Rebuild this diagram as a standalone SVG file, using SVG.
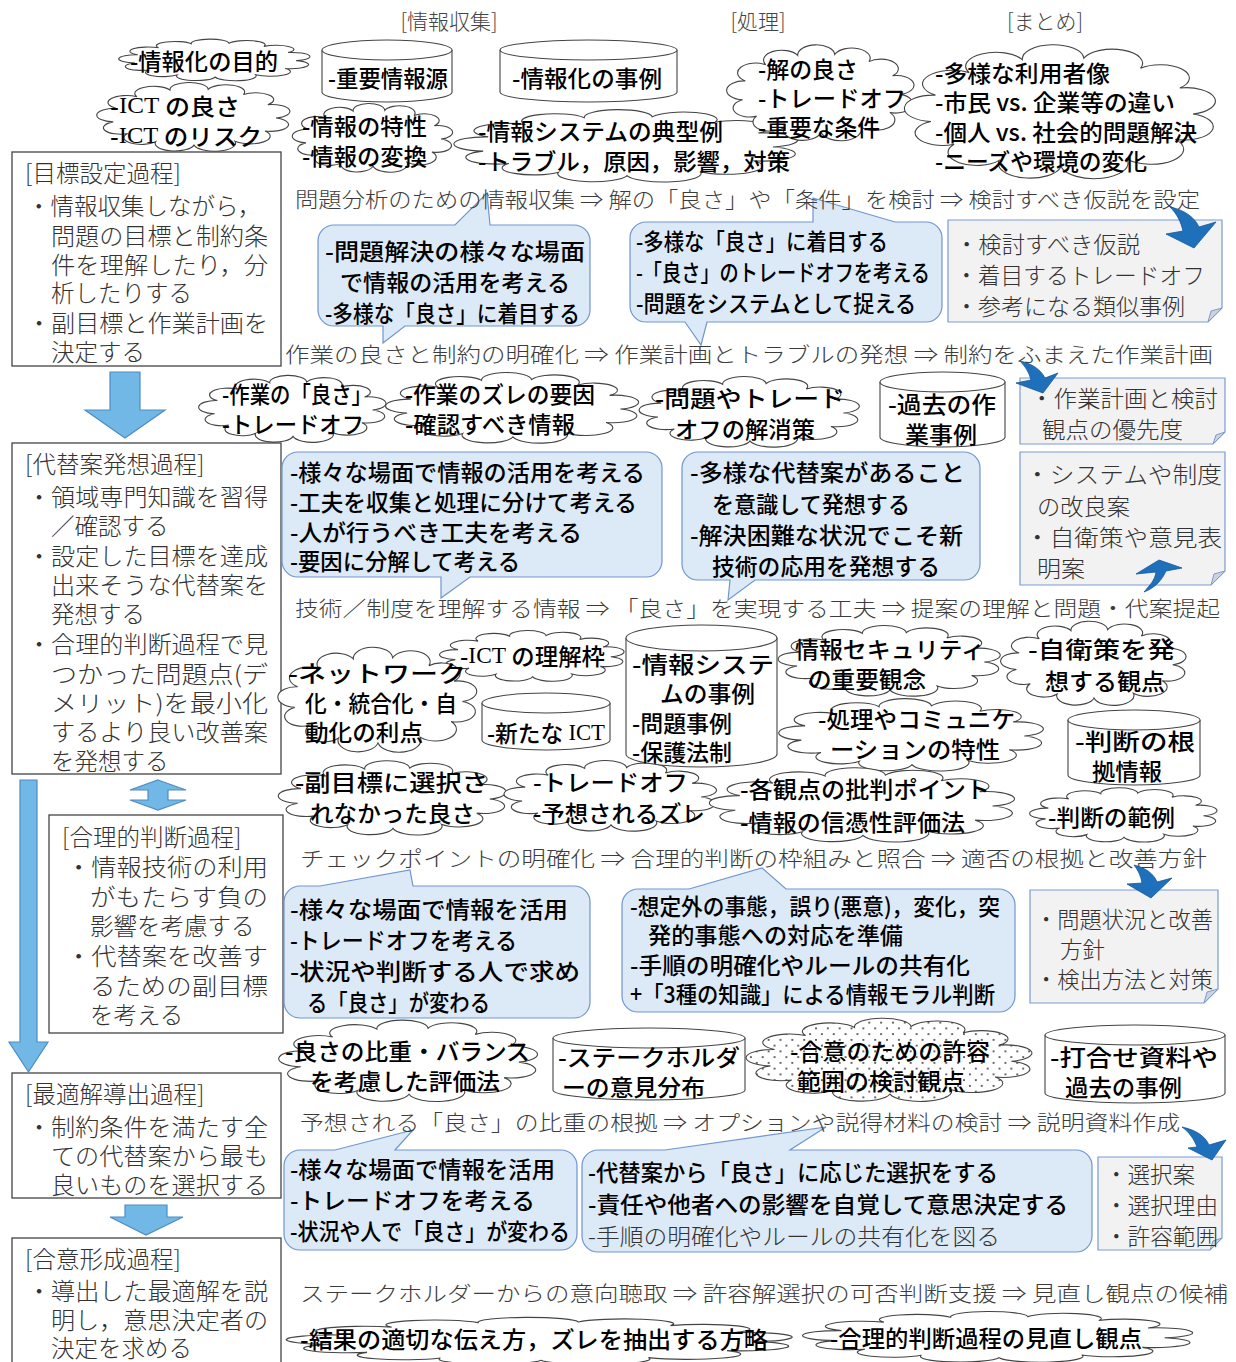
<svg xmlns="http://www.w3.org/2000/svg" xmlns:xlink="http://www.w3.org/1999/xlink" width="1236" height="1362" viewBox="0 0 1236 1362">
<style>
text{dominant-baseline:central;font-family:"Noto Sans CJK JP","Noto Sans CJK SC",sans-serif}
.m{font-size:23px;fill:#333;font-weight:300}
.p{font-size:23.5px;fill:#333;font-weight:300}
.g{font-size:23px;fill:#000;font-weight:500}
.f{font-size:21px;fill:#3c3c3c;font-weight:300}
.h{font-size:21px;fill:#444;font-weight:300}
.lat{font-family:"Liberation Serif",serif;font-weight:400}
.box{fill:#fff;stroke:#444;stroke-width:1.3}
.cl{fill:#fff;stroke:#444;stroke-width:1.1}
.cyl{fill:#fff;stroke:#444;stroke-width:1.1}
.co{fill:#dce9f7;stroke:#7096d0;stroke-width:1.2}
.note{fill:#f2f2f2;stroke:#7b9bd4;stroke-width:1.2}
.fold{fill:#cdd3dc;stroke:#7b9bd4;stroke-width:1}
.big{fill:#72b8e6;stroke:#4d8cc4;stroke-width:1.2}
.cur{fill:#1f70bb;stroke:#17579a;stroke-width:0.8}
</style>
<defs>
<symbol id="cloud" viewBox="0 0 100 100" preserveAspectRatio="none">
<path vector-effect="non-scaling-stroke" d="M9.6,56.4 A1,1 0 0 1 11,38.6 A1,1 0 0 1 21.5,23.4 A1,1 0 0 1 38,14.6 A1,1 0 0 1 57.1,13.6 A1,1 0 0 1 74.7,20.4 A1,1 0 0 1 86.9,33.8 A1,1 0 0 1 91,51.3 A1,1 0 0 1 85.5,68.5 A1,1 0 0 1 70.5,82 A1,1 0 0 1 50,87 A1,1 0 0 1 30.8,82.7 A1,1 0 0 1 16.8,71.8 A1,1 0 0 1 9.6,56.4 Z"/>
</symbol>
<pattern id="dots20" patternUnits="userSpaceOnUse" width="4" height="12.5">
<rect width="4" height="12.5" fill="#fff"/>
<ellipse cx="1" cy="3" rx="0.33" ry="1.04" fill="#333"/>
<ellipse cx="3" cy="9.25" rx="0.33" ry="1.04" fill="#333"/>
</pattern>
</defs>

<g id="headers">
<text class="h" x="449" y="20" text-anchor="middle">[情報収集]</text>
<text class="h" x="758" y="20" text-anchor="middle">[処理]</text>
<text class="h" x="1045" y="20" text-anchor="middle">[まとめ]</text>
</g>

<g id="proc-goal">
<rect class="box" x="12" y="152" width="269" height="214"/>
<text class="p" x="25" y="172">[目標設定過程]</text>
<text class="p" x="27" y="205">・情報収集しながら，</text>
<text class="p" x="51" y="235" textLength="217" lengthAdjust="spacingAndGlyphs">問題の目標と制約条</text>
<text class="p" x="51" y="264" textLength="217" lengthAdjust="spacingAndGlyphs">件を理解したり，分</text>
<text class="p" x="51" y="292">析したりする</text>
<text class="p" x="27" y="322" textLength="241" lengthAdjust="spacingAndGlyphs">・副目標と作業計画を</text>
<text class="p" x="51" y="351">決定する</text>
</g>

<g id="proc-alt">
<rect class="box" x="12" y="443" width="269" height="331"/>
<text class="p" x="25" y="463">[代替案発想過程]</text>
<text class="p" x="27" y="496" textLength="241" lengthAdjust="spacingAndGlyphs">・領域専門知識を習得</text>
<text class="p" x="51" y="525">／確認する</text>
<text class="p" x="27" y="555" textLength="241" lengthAdjust="spacingAndGlyphs">・設定した目標を達成</text>
<text class="p" x="51" y="584" textLength="217" lengthAdjust="spacingAndGlyphs">出来そうな代替案を</text>
<text class="p" x="51" y="613">発想する</text>
<text class="p" x="27" y="643" textLength="241" lengthAdjust="spacingAndGlyphs">・合理的判断過程で見</text>
<text class="p" x="51" y="673" textLength="217" lengthAdjust="spacingAndGlyphs">つかった問題点(デ</text>
<text class="p" x="51" y="702" textLength="217" lengthAdjust="spacingAndGlyphs">メリット)を最小化</text>
<text class="p" x="51" y="731" textLength="217" lengthAdjust="spacingAndGlyphs">するより良い改善案</text>
<text class="p" x="51" y="760">を発想する</text>
</g>

<g id="proc-judge">
<rect class="box" x="49" y="815" width="234" height="218"/>
<text class="p" x="62" y="836">[合理的判断過程]</text>
<text class="p" x="66" y="866" textLength="202" lengthAdjust="spacingAndGlyphs">・情報技術の利用</text>
<text class="p" x="90" y="896" textLength="178" lengthAdjust="spacingAndGlyphs">がもたらす負の</text>
<text class="p" x="90" y="925">影響を考慮する</text>
<text class="p" x="66" y="955" textLength="202" lengthAdjust="spacingAndGlyphs">・代替案を改善す</text>
<text class="p" x="90" y="985" textLength="178" lengthAdjust="spacingAndGlyphs">るための副目標</text>
<text class="p" x="90" y="1014">を考える</text>
</g>

<g id="proc-opt">
<rect class="box" x="12" y="1073" width="269" height="125"/>
<text class="p" x="25" y="1093">[最適解導出過程]</text>
<text class="p" x="27" y="1126" textLength="241" lengthAdjust="spacingAndGlyphs">・制約条件を満たす全</text>
<text class="p" x="51" y="1155" textLength="217" lengthAdjust="spacingAndGlyphs">ての代替案から最も</text>
<text class="p" x="51" y="1184" textLength="217" lengthAdjust="spacingAndGlyphs">良いものを選択する</text>
</g>

<g id="proc-consensus">
<rect class="box" x="12" y="1238" width="269" height="135"/>
<text class="p" x="25" y="1258">[合意形成過程]</text>
<text class="p" x="27" y="1290" textLength="241" lengthAdjust="spacingAndGlyphs">・導出した最適解を説</text>
<text class="p" x="51" y="1319" textLength="217" lengthAdjust="spacingAndGlyphs">明し，意思決定者の</text>
<text class="p" x="51" y="1347">決定を求める</text>
</g>

<g id="c-purpose"><use href="#cloud" class="cl" x="116" y="37" width="198" height="46"/><text class="g" x="130" y="60" textLength="148" lengthAdjust="spacingAndGlyphs">-情報化の目的</text></g>
<g id="c-ict"><use href="#cloud" class="cl" x="94" y="79" width="200" height="76"/>
<text class="g" x="110" y="105" textLength="130" lengthAdjust="spacingAndGlyphs">-<tspan class="lat">ICT</tspan> の良さ</text>
<text class="g" x="110" y="135" textLength="152" lengthAdjust="spacingAndGlyphs">-<tspan class="lat">ICT</tspan> のリスク</text></g>
<g id="c-info"><use href="#cloud" class="cl" x="290" y="100" width="166" height="76"/>
<text class="g" x="302" y="125" textLength="125" lengthAdjust="spacingAndGlyphs">-情報の特性</text>
<text class="g" x="302" y="155" textLength="125" lengthAdjust="spacingAndGlyphs">-情報の変換</text></g>
<g id="c-system"><use href="#cloud" class="cl" x="449" y="106" width="356" height="80"/>
<text class="g" x="478" y="130" textLength="245" lengthAdjust="spacingAndGlyphs">-情報システムの典型例</text>
<text class="g" x="478" y="160" textLength="312" lengthAdjust="spacingAndGlyphs">-トラブル，原因，影響，対策</text></g>
<g id="c-goodness"><use href="#cloud" class="cl" x="724" y="40" width="194" height="106"/>
<text class="g" x="758" y="68" textLength="100" lengthAdjust="spacingAndGlyphs">-解の良さ</text>
<text class="g" x="758" y="97" textLength="148" lengthAdjust="spacingAndGlyphs">-トレードオフ</text>
<text class="g" x="758" y="126" textLength="122" lengthAdjust="spacingAndGlyphs">-重要な条件</text></g>
<g id="c-users"><use href="#cloud" class="cl" x="900" y="38" width="322" height="148"/>
<text class="g" x="935" y="72" textLength="175" lengthAdjust="spacingAndGlyphs">-多様な利用者像</text>
<text class="g" x="935" y="101" textLength="240" lengthAdjust="spacingAndGlyphs">-市民 vs. 企業等の違い</text>
<text class="g" x="935" y="131" textLength="262" lengthAdjust="spacingAndGlyphs">-個人 vs. 社会的問題解決</text>
<text class="g" x="935" y="160" textLength="212" lengthAdjust="spacingAndGlyphs">-ニーズや環境の変化</text></g>

<g id="c-work-good"><use href="#cloud" class="cl" x="196" y="372" width="194" height="74"/>
<text class="g" x="222" y="393" textLength="150" lengthAdjust="spacingAndGlyphs">-作業の「良さ」</text>
<text class="g" x="222" y="423" textLength="142" lengthAdjust="spacingAndGlyphs">-トレードオフ</text></g>
<g id="c-work-gap"><use href="#cloud" class="cl" x="382" y="369" width="262" height="78"/>
<text class="g" x="405" y="393" textLength="190" lengthAdjust="spacingAndGlyphs">-作業のズレの要因</text>
<text class="g" x="405" y="423" textLength="170" lengthAdjust="spacingAndGlyphs">-確認すべき情報</text></g>
<g id="c-resolve"><use href="#cloud" class="cl" x="636" y="373" width="228" height="78"/>
<text class="g" x="655" y="397" textLength="190" lengthAdjust="spacingAndGlyphs">-問題やトレード</text>
<text class="g" x="675" y="428" textLength="140" lengthAdjust="spacingAndGlyphs">オフの解消策</text></g>

<g id="c-ict-frame"><use href="#cloud" class="cl" x="437" y="628" width="191" height="56"/>
<text class="g" x="460" y="655" textLength="145" lengthAdjust="spacingAndGlyphs">-<tspan class="lat">ICT</tspan> の理解枠</text></g>
<g id="c-network"><use href="#cloud" class="cl" x="275" y="642" width="206" height="116"/>
<text class="g" x="288" y="672" textLength="178" lengthAdjust="spacingAndGlyphs">-ネットワーク</text>
<text class="g" x="305" y="702" textLength="152" lengthAdjust="spacingAndGlyphs">化・統合化・自</text>
<text class="g" x="305" y="731" textLength="118" lengthAdjust="spacingAndGlyphs">動化の利点</text></g>
<g id="c-security"><use href="#cloud" class="cl" x="775" y="622" width="230" height="78"/>
<text class="g" x="795" y="648" textLength="190" lengthAdjust="spacingAndGlyphs">情報セキュリティ</text>
<text class="g" x="808" y="678" textLength="118" lengthAdjust="spacingAndGlyphs">の重要観念</text></g>
<g id="c-selfdef"><use href="#cloud" class="cl" x="998" y="617" width="192" height="93"/>
<text class="g" x="1028" y="648" textLength="147" lengthAdjust="spacingAndGlyphs">-自衛策を発</text>
<text class="g" x="1045" y="680" textLength="120" lengthAdjust="spacingAndGlyphs">想する観点</text></g>
<g id="c-comm"><use href="#cloud" class="cl" x="775" y="695" width="274" height="80"/>
<text class="g" x="818" y="718" textLength="197" lengthAdjust="spacingAndGlyphs">-処理やコミュニケ</text>
<text class="g" x="830" y="748" textLength="170" lengthAdjust="spacingAndGlyphs">ーションの特性</text></g>
<g id="c-subgoal"><use href="#cloud" class="cl" x="275" y="757" width="236" height="82"/>
<text class="g" x="295" y="781" textLength="193" lengthAdjust="spacingAndGlyphs">-副目標に選択さ</text>
<text class="g" x="310" y="812" textLength="165" lengthAdjust="spacingAndGlyphs">れなかった良さ</text></g>
<g id="c-tradeoff2"><use href="#cloud" class="cl" x="501" y="757" width="220" height="78"/>
<text class="g" x="533" y="781" textLength="155" lengthAdjust="spacingAndGlyphs">-トレードオフ</text>
<text class="g" x="533" y="812" textLength="172" lengthAdjust="spacingAndGlyphs">-予想されるズレ</text></g>
<g id="c-critique"><use href="#cloud" class="cl" x="705" y="764" width="316" height="82"/>
<text class="g" x="740" y="788" textLength="250" lengthAdjust="spacingAndGlyphs">-各観点の批判ポイント</text>
<text class="g" x="740" y="821" textLength="225" lengthAdjust="spacingAndGlyphs">-情報の信憑性評価法</text></g>
<g id="c-example"><use href="#cloud" class="cl" x="1027" y="785" width="194" height="60"/>
<text class="g" x="1048" y="816" textLength="127" lengthAdjust="spacingAndGlyphs">-判断の範例</text></g>

<g id="c-balance"><use href="#cloud" class="cl" x="275" y="1016" width="268" height="90"/>
<text class="g" x="285" y="1050" textLength="245" lengthAdjust="spacingAndGlyphs">-良さの比重・バランス</text>
<text class="g" x="310" y="1080" textLength="190" lengthAdjust="spacingAndGlyphs">を考慮した評価法</text></g>
<g id="c-consent"><use href="#cloud" x="742" y="1014" width="296" height="92" fill="url(#dots20)" stroke="#444" stroke-width="1.1"/>
<text class="g" x="790" y="1050" textLength="200" lengthAdjust="spacingAndGlyphs">-合意のための許容</text>
<text class="g" x="797" y="1080" textLength="168" lengthAdjust="spacingAndGlyphs">範囲の検討観点</text></g>
<g id="c-convey"><use href="#cloud" class="cl" x="279" y="1315" width="524" height="52"/>
<text class="g" x="300" y="1338" textLength="468" lengthAdjust="spacingAndGlyphs">-結果の適切な伝え方，ズレを抽出する方略</text></g>
<g id="c-review"><use href="#cloud" class="cl" x="797" y="1309" width="404" height="56"/>
<text class="g" x="830" y="1337" textLength="312" lengthAdjust="spacingAndGlyphs">-合理的判断過程の見直し観点</text></g>

<g id="db-source"><path class="cyl" d="M322,50 V92 A65,10 0 0 0 452,92 V50"/><ellipse class="cyl" cx="387" cy="50" rx="65" ry="10"/>
<text class="g" x="328" y="77" textLength="120" lengthAdjust="spacingAndGlyphs">-重要情報源</text></g>
<g id="db-cases"><path class="cyl" d="M500,50 V92 A88.5,10 0 0 0 677,92 V50"/><ellipse class="cyl" cx="588.5" cy="50" rx="88.5" ry="10"/>
<text class="g" x="512" y="77" textLength="150" lengthAdjust="spacingAndGlyphs">-情報化の事例</text></g>
<g id="db-past-work"><path class="cyl" d="M880,382 V437 A62.5,10 0 0 0 1005,437 V382"/><ellipse class="cyl" cx="942.5" cy="382" rx="62.5" ry="10"/>
<text class="g" x="888" y="403" textLength="108" lengthAdjust="spacingAndGlyphs">-過去の作</text>
<text class="g" x="905" y="433" textLength="72" lengthAdjust="spacingAndGlyphs">業事例</text></g>
<g id="db-system"><path class="cyl" d="M626,638 V754 A75.5,13 0 0 0 777,754 V638"/><ellipse class="cyl" cx="701.5" cy="638" rx="75.5" ry="13"/>
<text class="g" x="632" y="663" textLength="142" lengthAdjust="spacingAndGlyphs">-情報システ</text>
<text class="g" x="660" y="692" textLength="95" lengthAdjust="spacingAndGlyphs">ムの事例</text>
<text class="g" x="632" y="722" textLength="100" lengthAdjust="spacingAndGlyphs">-問題事例</text>
<text class="g" x="632" y="751" textLength="100" lengthAdjust="spacingAndGlyphs">-保護法制</text></g>
<g id="db-new-ict"><path class="cyl" d="M482,703 V740 A64,10 0 0 0 610,740 V703"/><ellipse class="cyl" cx="546" cy="703" rx="64" ry="10"/>
<text class="g" x="487" y="732" textLength="118" lengthAdjust="spacingAndGlyphs">-新たな <tspan class="lat">ICT</tspan></text></g>
<g id="db-grounds"><path class="cyl" d="M1068,720 V775 A66,10 0 0 0 1200,775 V720"/><ellipse class="cyl" cx="1134" cy="720" rx="66" ry="10"/>
<text class="g" x="1075" y="740" textLength="120" lengthAdjust="spacingAndGlyphs">-判断の根</text>
<text class="g" x="1092" y="770" textLength="70" lengthAdjust="spacingAndGlyphs">拠情報</text></g>
<g id="db-stakeholder"><path class="cyl" d="M553,1038 V1090 A96,10 0 0 0 745,1090 V1038"/><ellipse class="cyl" cx="649" cy="1038" rx="96" ry="10"/>
<text class="g" x="558" y="1056" textLength="182" lengthAdjust="spacingAndGlyphs">-ステークホルダ</text>
<text class="g" x="562" y="1086" textLength="143" lengthAdjust="spacingAndGlyphs">ーの意見分布</text></g>
<g id="db-meeting"><path class="cyl" d="M1045,1035 V1093 A90,10 0 0 0 1225,1093 V1035"/><ellipse class="cyl" cx="1135" cy="1035" rx="90" ry="10"/>
<text class="g" x="1050" y="1056" textLength="168" lengthAdjust="spacingAndGlyphs">-打合せ資料や</text>
<text class="g" x="1065" y="1086" textLength="117" lengthAdjust="spacingAndGlyphs">過去の事例</text></g>

<g id="k1"><path class="co" d="M334,225 H455 L487,193 L490,225 H574 A16,16 0 0 1 590,241 V310 A16,16 0 0 1 574,326 H405 L383,343 L383,326 H334 A16,16 0 0 1 318,310 V241 A16,16 0 0 1 334,225 Z"/>
<text class="g" x="325" y="250" textLength="260" lengthAdjust="spacingAndGlyphs">-問題解決の様々な場面</text>
<text class="g" x="340" y="281" textLength="230" lengthAdjust="spacingAndGlyphs">で情報の活用を考える</text>
<text class="g" x="325" y="312" textLength="255" lengthAdjust="spacingAndGlyphs">-多様な「良さ」に着目する</text></g>
<g id="k2"><path class="co" d="M646,222 H813 L813,198 L895,222 H926 A16,16 0 0 1 942,238 V306 A16,16 0 0 1 926,322 H707 L701,345 L685,322 H646 A16,16 0 0 1 630,306 V238 A16,16 0 0 1 646,222 Z"/>
<text class="g" x="636" y="240" textLength="252" lengthAdjust="spacingAndGlyphs">-多様な「良さ」に着目する</text>
<text class="g" x="636" y="271" textLength="294" lengthAdjust="spacingAndGlyphs">-「良さ」のトレードオフを考える</text>
<text class="g" x="636" y="302" textLength="280" lengthAdjust="spacingAndGlyphs">-問題をシステムとして捉える</text></g>
<g id="k3"><path class="co" d="M298,452 H646 A16,16 0 0 1 662,468 V561 A16,16 0 0 1 646,577 H470 L441,598 L441,577 H298 A16,16 0 0 1 282,561 V468 A16,16 0 0 1 298,452 Z"/>
<text class="g" x="290" y="471" textLength="355" lengthAdjust="spacingAndGlyphs">-様々な場面で情報の活用を考える</text>
<text class="g" x="290" y="501" textLength="347" lengthAdjust="spacingAndGlyphs">-工夫を収集と処理に分けて考える</text>
<text class="g" x="290" y="531" textLength="292" lengthAdjust="spacingAndGlyphs">-人が行うべき工夫を考える</text>
<text class="g" x="290" y="560" textLength="230" lengthAdjust="spacingAndGlyphs">-要因に分解して考える</text></g>
<g id="k4"><path class="co" d="M698,452 H964 A16,16 0 0 1 980,468 V564 A16,16 0 0 1 964,580 H755 L728,600 L730,580 H698 A16,16 0 0 1 682,564 V468 A16,16 0 0 1 698,452 Z"/>
<text class="g" x="690" y="471" textLength="275" lengthAdjust="spacingAndGlyphs">-多様な代替案があること</text>
<text class="g" x="712" y="503" textLength="198" lengthAdjust="spacingAndGlyphs">を意識して発想する</text>
<text class="g" x="690" y="534" textLength="273" lengthAdjust="spacingAndGlyphs">-解決困難な状況でこそ新</text>
<text class="g" x="712" y="565" textLength="228" lengthAdjust="spacingAndGlyphs">技術の応用を発想する</text></g>
<g id="k5"><path class="co" d="M300,886 H320 L410,870 L413,886 H574 A16,16 0 0 1 590,902 V1002 A16,16 0 0 1 574,1018 H300 A16,16 0 0 1 284,1002 V902 A16,16 0 0 1 300,886 Z"/>
<text class="g" x="290" y="908" textLength="278" lengthAdjust="spacingAndGlyphs">-様々な場面で情報を活用</text>
<text class="g" x="290" y="939" textLength="227" lengthAdjust="spacingAndGlyphs">-トレードオフを考える</text>
<text class="g" x="290" y="970" textLength="290" lengthAdjust="spacingAndGlyphs">-状況や判断する人で求め</text>
<text class="g" x="307" y="1001" textLength="183" lengthAdjust="spacingAndGlyphs">る「良さ」が変わる</text></g>
<g id="k6"><path class="co" d="M638,889 H689 L762,868 L786,889 H999 A16,16 0 0 1 1015,905 V996 A16,16 0 0 1 999,1012 H638 A16,16 0 0 1 622,996 V905 A16,16 0 0 1 638,889 Z"/>
<text class="g" x="630" y="905" textLength="370" lengthAdjust="spacingAndGlyphs">-想定外の事態，誤り(悪意)，変化，突</text>
<text class="g" x="648" y="934" textLength="255" lengthAdjust="spacingAndGlyphs">発的事態への対応を準備</text>
<text class="g" x="630" y="964" textLength="340" lengthAdjust="spacingAndGlyphs">-手順の明確化やルールの共有化</text>
<text class="g" x="630" y="993" textLength="365" lengthAdjust="spacingAndGlyphs">+「3種の知識」による情報モラル判断</text></g>
<g id="k7"><path class="co" d="M300,1150 H335 L413,1130 L395,1150 H561 A16,16 0 0 1 577,1166 V1234 A16,16 0 0 1 561,1250 H300 A16,16 0 0 1 284,1234 V1166 A16,16 0 0 1 300,1150 Z"/>
<text class="g" x="290" y="1168" textLength="265" lengthAdjust="spacingAndGlyphs">-様々な場面で情報を活用</text>
<text class="g" x="290" y="1199" textLength="245" lengthAdjust="spacingAndGlyphs">-トレードオフを考える</text>
<text class="g" x="290" y="1230" textLength="280" lengthAdjust="spacingAndGlyphs">-状況や人で「良さ」が変わる</text></g>
<g id="k8"><path class="co" d="M598,1150 H665 L826,1127 L790,1150 H1076 A16,16 0 0 1 1092,1166 V1236 A16,16 0 0 1 1076,1252 H598 A16,16 0 0 1 582,1236 V1166 A16,16 0 0 1 598,1150 Z"/>
<text class="g" x="588" y="1171" textLength="410" lengthAdjust="spacingAndGlyphs">-代替案から「良さ」に応じた選択をする</text>
<text class="g" x="588" y="1203" textLength="480" lengthAdjust="spacingAndGlyphs">-責任や他者への影響を自覚して意思決定する</text>
<text class="g" x="588" y="1235" textLength="412" lengthAdjust="spacingAndGlyphs" style="fill:#333;font-weight:300">-手順の明確化やルールの共有化を図る</text></g>

<g id="n1"><path class="note" d="M948,220 H1222 V308 L1208,322 H948 Z"/><path class="fold" d="M1208,322 L1211,311 L1222,308 Z"/>
<text class="m" x="955" y="243" textLength="185" lengthAdjust="spacingAndGlyphs">・検討すべき仮説</text>
<text class="m" x="955" y="274" textLength="250" lengthAdjust="spacingAndGlyphs">・着目するトレードオフ</text>
<text class="m" x="955" y="305" textLength="230" lengthAdjust="spacingAndGlyphs">・参考になる類似事例</text></g>
<g id="n2"><path class="note" d="M1020,378 H1225 V432 L1213,444 H1020 Z"/><path class="fold" d="M1213,444 L1216,435 L1225,432 Z"/>
<text class="m" x="1030" y="397" textLength="188" lengthAdjust="spacingAndGlyphs">・作業計画と検討</text>
<text class="m" x="1042" y="428" textLength="141" lengthAdjust="spacingAndGlyphs">観点の優先度</text></g>
<g id="n3"><path class="note" d="M1020,452 H1225 V571 L1211,585 H1020 Z"/><path class="fold" d="M1211,585 L1214,574 L1225,571 Z"/>
<text class="m" x="1025" y="473" textLength="197" lengthAdjust="spacingAndGlyphs">・システムや制度</text>
<text class="m" x="1037" y="505" textLength="93" lengthAdjust="spacingAndGlyphs">の改良案</text>
<text class="m" x="1025" y="536" textLength="197" lengthAdjust="spacingAndGlyphs">・自衛策や意見表</text>
<text class="m" x="1037" y="567" textLength="48" lengthAdjust="spacingAndGlyphs">明案</text></g>
<g id="n4"><path class="note" d="M1030,890 H1218 V989 L1204,1003 H1030 Z"/><path class="fold" d="M1204,1003 L1207,992 L1218,989 Z"/>
<text class="m" x="1035" y="918" textLength="178" lengthAdjust="spacingAndGlyphs">・問題状況と改善</text>
<text class="m" x="1060" y="948" textLength="45" lengthAdjust="spacingAndGlyphs">方針</text>
<text class="m" x="1035" y="978" textLength="178" lengthAdjust="spacingAndGlyphs">・検出方法と対策</text></g>
<g id="n5"><path class="note" d="M1098,1157 H1222 V1238 L1210,1250 H1098 Z"/><path class="fold" d="M1210,1250 L1213,1241 L1222,1238 Z"/>
<text class="m" x="1105" y="1173" textLength="90" lengthAdjust="spacingAndGlyphs">・選択案</text>
<text class="m" x="1105" y="1204" textLength="113" lengthAdjust="spacingAndGlyphs">・選択理由</text>
<text class="m" x="1105" y="1235" textLength="113" lengthAdjust="spacingAndGlyphs">・許容範囲</text></g>

<g id="flows">
<text class="f" x="295" y="198" textLength="905" lengthAdjust="spacingAndGlyphs">問題分析のための情報収集 ⇒ 解の「良さ」や「条件」を検討 ⇒ 検討すべき仮説を設定</text>
<text class="f" x="285" y="353" textLength="928" lengthAdjust="spacingAndGlyphs">作業の良さと制約の明確化 ⇒ 作業計画とトラブルの発想 ⇒ 制約をふまえた作業計画</text>
<text class="f" x="295" y="607" textLength="925" lengthAdjust="spacingAndGlyphs">技術／制度を理解する情報 ⇒ 「良さ」を実現する工夫 ⇒ 提案の理解と問題・代案提起</text>
<text class="f" x="300" y="857" textLength="907" lengthAdjust="spacingAndGlyphs">チェックポイントの明確化 ⇒ 合理的判断の枠組みと照合 ⇒ 適否の根拠と改善方針</text>
<text class="f" x="300" y="1121" textLength="880" lengthAdjust="spacingAndGlyphs">予想される「良さ」の比重の根拠 ⇒ オプションや説得材料の検討 ⇒ 説明資料作成</text>
<text class="f" x="300" y="1292" textLength="928" lengthAdjust="spacingAndGlyphs">ステークホルダーからの意向聴取 ⇒ 許容解選択の可否判断支援 ⇒ 見直し観点の候補</text>
</g>

<g id="connectors">
<path class="big" d="M110,372 H140 V410 H165 L125,438 L85,410 H110 Z"/>
<path class="big" d="M158,780 L186,790 H168 V800 H186 L158,810 L130,800 H148 V790 H130 Z"/>
<path class="big" d="M20,780 H37 V1042 H48 L28.5,1072 L9,1042 H20 Z"/>
<path class="big" d="M125,1205 H167 V1217 H183 L146,1235 L110,1217 H125 Z"/>
<path class="cur" d="M1170,207 C1185,210 1195,218 1199,227 L1216,222 L1194,248 L1166,234 L1183,231 C1181,222 1177,214 1170,207 Z"/>
<path class="cur" d="M1020,361 C1033,364 1041,370 1045,378 L1058,373 L1043,393 L1016,383 L1031,380 C1029,372 1025,366 1020,361 Z"/>
<path class="cur" d="M1144,592 C1150,585 1155,580 1156,572 L1136,574 L1159,560 L1182,568 L1166,571 C1162,580 1155,588 1144,592 Z"/>
<path class="cur" d="M1134,865 C1146,868 1154,874 1157,882 L1172,878 L1151,898 L1127,884 L1142,883 C1141,876 1138,870 1134,865 Z"/>
<path class="cur" d="M1182,1127 C1196,1130 1205,1136 1209,1145 L1226,1140 L1212,1160 L1188,1148 L1197,1147 C1194,1139 1189,1132 1182,1127 Z"/>
</g>
</svg>
